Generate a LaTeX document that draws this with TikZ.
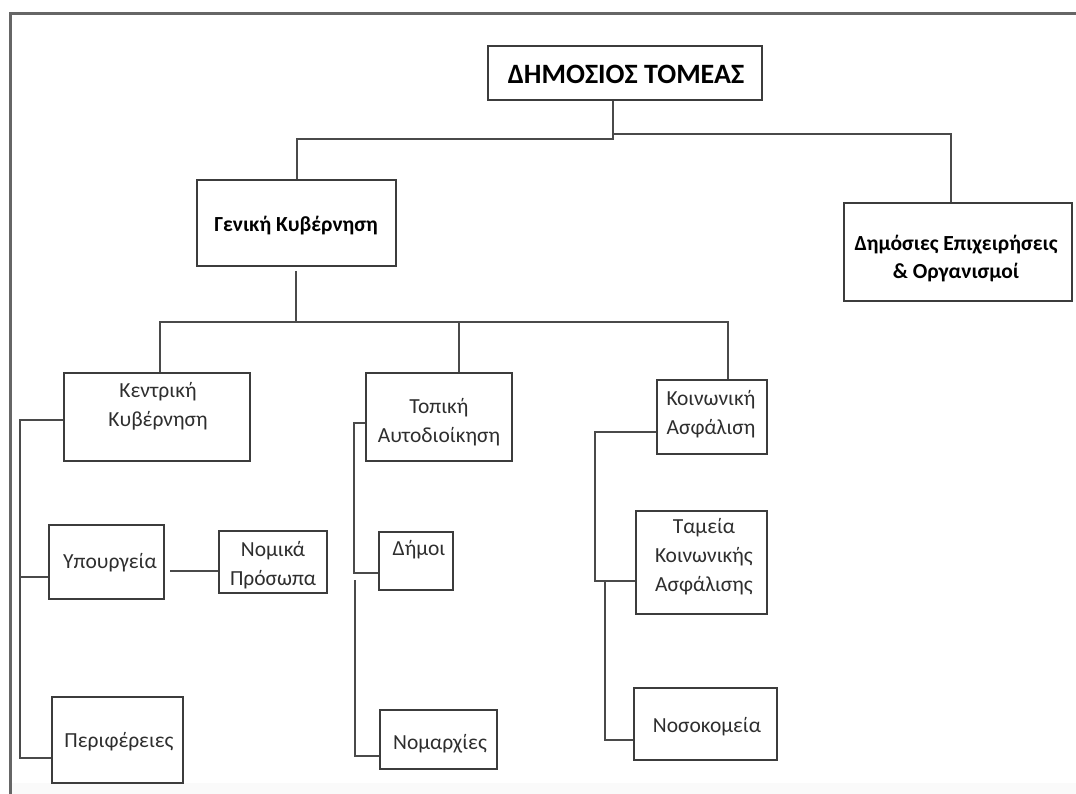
\documentclass[tikz,border=0pt]{standalone}
\usepackage{fontspec}
\setmainfont{Carlito}
\definecolor{linec}{HTML}{4A4A4A}
\definecolor{boxc}{HTML}{3C3C3C}
\definecolor{txtc}{HTML}{2E2E2E}
\begin{document}
\begin{tikzpicture}[x=1pt,y=-1pt,
  box/.style={draw=boxc, line width=2pt, inner sep=0pt},
  txt/.style={align=center, inner sep=0pt, text=txtc, font=\fontsize{21.5}{29}\selectfont},
  btxt/.style={align=center, inner sep=0pt, text=black, font=\bfseries\fontsize{21.5}{28}\selectfont},
  ttl/.style={align=center, inner sep=0pt, text=black, font=\bfseries\fontsize{28}{32}\selectfont},
  ln/.style={draw=linec, line width=2pt},
  framec/.style={draw=gray!80!black, line width=3pt}]
\useasboundingbox (0,0) rectangle (1076,794);
\fill[gray!4] (10,783) rectangle (1076,794);
% frame
\coordinate (fTL) at (10,14);
\coordinate (fTR) at (1076,14);
\coordinate (fBL) at (10,794);
\draw[framec] (fTR) -- (fTL) -- (fBL);

% boxes
\node[box, minimum width=274pt, minimum height=54pt] (top) at (625,73) {};
\node[ttl] (toptxt) at (626,74) {ΔΗΜΟΣΙΟΣ ΤΟΜΕΑΣ};

\node[box, minimum width=199pt, minimum height=86pt] (gen) at (296.5,223) {};
\node[btxt] (gentxt) at (296,226) {Γενική Κυβέρνηση};

\node[box, minimum width=228pt, minimum height=98pt] (dem) at (958,252) {};
\node[btxt] (demtxt) at (956,259) {Δημόσιες Επιχειρήσεις\\\& Οργανισμοί};

\node[box, minimum width=186pt, minimum height=88pt] (kk) at (157,417) {};
\node[txt] (kktxt) at (158,406) {Κεντρική\\Κυβέρνηση};

\node[box, minimum width=146pt, minimum height=88pt] (tp) at (439,417) {};
\node[txt] (tptxt) at (439,422) {Τοπική\\Αυτοδιοίκηση};

\node[box, minimum width=110pt, minimum height=74pt] (ka) at (712,417) {};
\node[txt] (katxt) at (711,414) {Κοινωνική\\Ασφάλιση};

\node[box, minimum width=115pt, minimum height=74pt] (yp) at (106.5,562) {};
\node[txt] (yptxt) at (110,563) {Υπουργεία};

\node[box, minimum width=108pt, minimum height=62pt] (np) at (273,562) {};
\node[txt] (nptxt) at (273,565) {Νομικά\\Πρόσωπα};

\node[box, minimum width=131pt, minimum height=86pt] (pe) at (117.5,740) {};
\node[txt] (petxt) at (119,742) {Περιφέρειες};

\node[box, minimum width=74pt, minimum height=58pt] (dh) at (416,561) {};
\node[txt] (dhtxt) at (419,550) {Δήμοι};

\node[box, minimum width=117pt, minimum height=59pt] (nm) at (438.5,739.5) {};
\node[txt] (nmtxt) at (440,744) {Νομαρχίες};

\node[box, minimum width=131pt, minimum height=103pt] (tk) at (701.5,562.5) {};
\node[txt] (tktxt) at (704,557) {Ταμεία\\Κοινωνικής\\Ασφάλισης};

\node[box, minimum width=143pt, minimum height=72pt] (no) at (705.5,724) {};
\node[txt] (notxt) at (707,727) {Νοσοκομεία};

% top level connectors
\coordinate (jA) at (613,139);
\coordinate (jB) at (613,134);
\coordinate (jBr) at (951,134);
\draw[ln] (top.south -| jA) -- (jA) -| (gen.north);
\draw[ln] (jB) -- (jBr) -- (jBr |- dem.north);

% general government connectors
\coordinate (g0) at (296,271);
\coordinate (g1) at (296,322);
\coordinate (gL) at (160,322);
\coordinate (gM) at (459,322);
\coordinate (gR) at (728,322);
\draw[ln] (g0) -- (g1);
\draw[ln] (gL |- kk.north) -- (gL) -- (gR) -- (gR |- ka.north);
\draw[ln] (gM) -- (gM |- tp.north);

% central government branch
\coordinate (a1) at (20,420);
\coordinate (a2) at (20,577);
\coordinate (a3) at (20,758);
\draw[ln] (kk.west |- a1) -- (a1) -- (a3) -- (pe.west |- a3);
\draw[ln] (a2) -- (yp.west |- a2);
\coordinate (b1) at (170,571);
\draw[ln] (b1) -- (np.west |- b1);

% local government branch
\coordinate (c1) at (354,423);
\coordinate (c2) at (354,573);
\coordinate (c3) at (355,580);
\coordinate (c4) at (355,756);
\draw[ln] (tp.west |- c1) -- (c1) -- (c2) -- (dh.west |- c2);
\draw[ln] (c3) -- (c4) -- (nm.west |- c4);

% social security branch
\coordinate (d1) at (595,432);
\coordinate (d2) at (595,581);
\coordinate (d3) at (605,581);
\coordinate (d4) at (605,740);
\draw[ln] (ka.west |- d1) -- (d1) -- (d2) -- (tk.west |- d2);
\draw[ln] (d3) -- (d4) -- (no.west |- d4);
\end{tikzpicture}
\end{document}
